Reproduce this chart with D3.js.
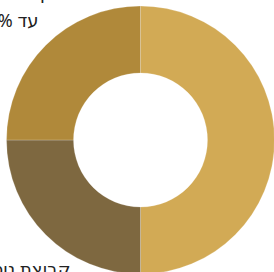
<!DOCTYPE html>
<html>
<head>
<meta charset="utf-8">
<script src="https://cdn.jsdelivr.net/npm/d3@7"></script>
<style>
  html, body { margin: 0; padding: 0; background: #fff; overflow: hidden; }
</style>
</head>
<body>
<svg id="canvas"></svg>
<script>
'use strict';

// slices clockwise from 12 o'clock
var categories = ['מעל 10%', 'קבוצת נוספת', 'קבוצת ביניים עד 10%'];
var values = [50, 25, 25];
var colors = ['#d2aa55', '#7e6840', '#b0893a'];
// label lines for the slices that show inside the frame
var labelLines = [
  [],
  ['קבוצת נוספת'],
  ['קבוצת ביניים', 'עד 10%']
];

function RenderChart() {
  var width = 274, height = 272;
  var cx = 140.5, cy = 140, outerR = 134, innerR = 67;

  var svg = d3.select('#canvas')
      .attr('width', width)
      .attr('height', height);

  var pie = d3.pie().sort(null).value(function(d) { return d; });
  var arc = d3.arc().innerRadius(innerR).outerRadius(outerR);
  var slices = pie(values);

  var g = svg.append('g')
      .attr('transform', 'translate(' + [cx, cy] + ')');

  g.selectAll('path')
      .data(slices)
    .enter().append('path')
      .attr('d', arc)
      .attr('fill', function(d, i) { return colors[i]; })
      .attr('stroke', 'rgba(255,255,255,0.35)')
      .attr('stroke-width', 0.6);

  // labels sit outside the ring, each line placed by its right edge
  var labelPos = [
    null,
    [[-70, 136]],
    [[-88, -141], [-102, -113]]
  ];
  slices.forEach(function(s, i) {
    if (!labelPos[i]) return;
    var t = g.append('text')
        .attr('direction', 'rtl')
        .attr('text-anchor', 'start')
        .attr('font-family', '"Noto Sans", "DejaVu Sans", sans-serif')
        .attr('font-size', 18)
        .attr('fill', '#222');
    labelLines[i].forEach(function(line, j) {
      t.append('tspan')
          .attr('x', labelPos[i][j][0])
          .attr('y', labelPos[i][j][1])
          .text(line);
    });
  });
}

RenderChart();
</script>
</body>
</html>
